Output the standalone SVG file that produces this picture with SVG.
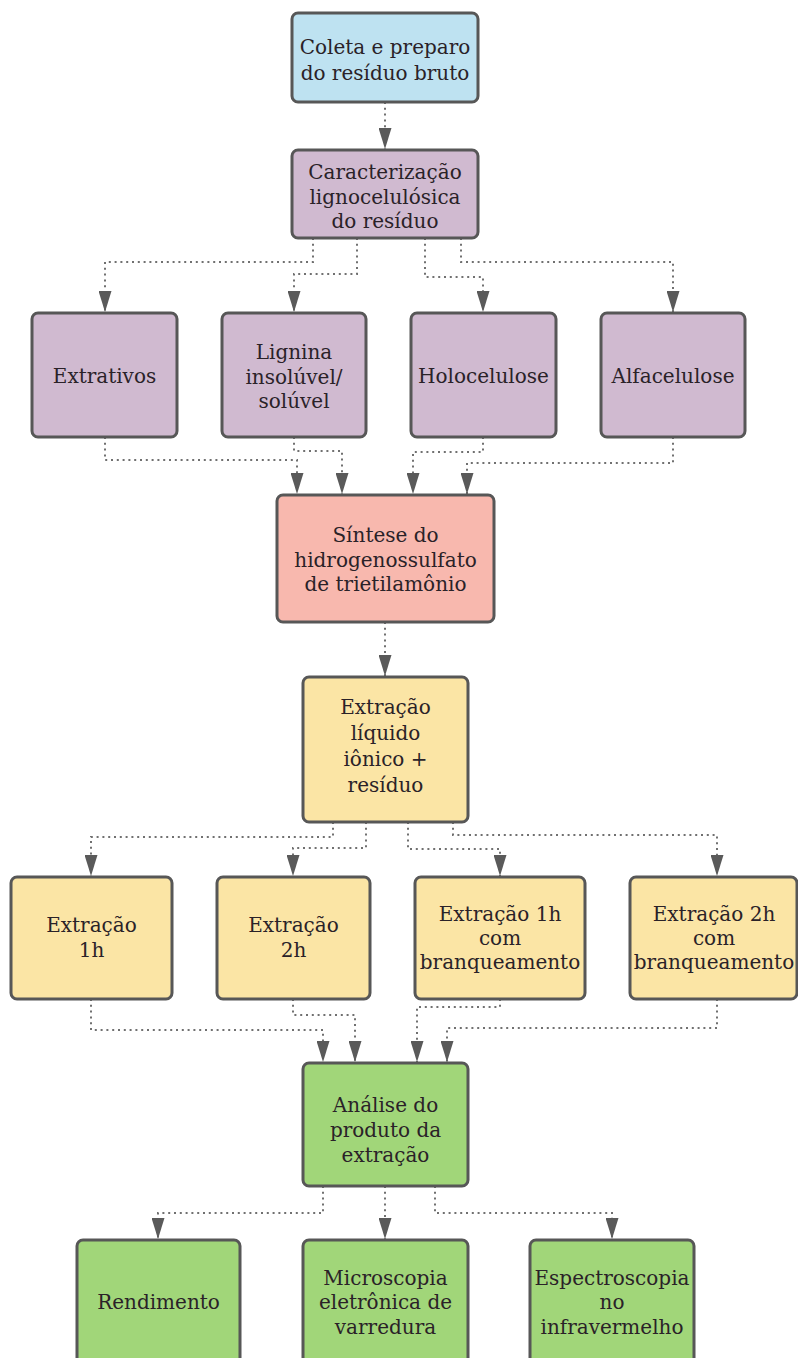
<svg xmlns="http://www.w3.org/2000/svg" width="798" height="1358" viewBox="0 0 798 1358">
<defs>
<marker id="ah" viewBox="0 0 21 13" refX="21" refY="6.5" markerWidth="21" markerHeight="13" orient="auto" markerUnits="userSpaceOnUse"><path d="M0,0 L21,6.5 L0,13 z" fill="#5a5a5a"/></marker>
</defs>
<style>
.box{stroke:#575757;stroke-width:3}
.blue{fill:#bee2f1}
.purple{fill:#d0bad0}
.salmon{fill:#f8b8ae}
.yellow{fill:#fbe5a5}
.green{fill:#a1d679}
text{font-family:"DejaVu Serif","Liberation Serif",serif;font-size:20px;fill:#2a2228;text-anchor:middle}
.c{fill:none;stroke:#707070;stroke-width:2;stroke-dasharray:2 3.8;marker-end:url(#ah)}
</style>
<rect width="798" height="1358" fill="#ffffff"/>
<g id="connectors">
<path class="c" d="M385,102 V149"/>
<path class="c" d="M313,238 V262 H105 V312"/>
<path class="c" d="M357,238 V274 H294 V312"/>
<path class="c" d="M425,238 V277 H483 V312"/>
<path class="c" d="M461,238 V262 H673 V312"/>
<path class="c" d="M105,437 V460 H297 V494"/>
<path class="c" d="M294,437 V451 H342 V494"/>
<path class="c" d="M483,437 V452 H413 V494"/>
<path class="c" d="M673,437 V463 H467 V494"/>
<path class="c" d="M385,622 V676"/>
<path class="c" d="M333,822 V837 H91 V876"/>
<path class="c" d="M366,822 V848 H293 V876"/>
<path class="c" d="M408,822 V849 H500 V876"/>
<path class="c" d="M453,822 V835 H717 V876"/>
<path class="c" d="M91,999 V1030 H323 V1062"/>
<path class="c" d="M293,999 V1015 H355 V1062"/>
<path class="c" d="M500,999 V1007 H417 V1062"/>
<path class="c" d="M717,999 V1028 H447 V1062"/>
<path class="c" d="M323,1186 V1213 H158 V1239"/>
<path class="c" d="M385,1186 V1239"/>
<path class="c" d="M435,1186 V1213 H612 V1239"/>
</g>
<g id="n1"><rect class="box blue" x="292" y="13" width="186" height="89" rx="6"/><text x="385" y="54">Coleta e preparo</text><text x="385" y="80">do resíduo bruto</text></g>
<g id="n2"><rect class="box purple" x="292" y="150" width="186" height="88" rx="6"/><text x="385" y="179">Caracterização</text><text x="385" y="204">lignocelulósica</text><text x="385" y="228">do resíduo</text></g>
<g id="n3"><rect class="box purple" x="32" y="313" width="145" height="124" rx="6"/><text x="104.5" y="383">Extrativos</text></g>
<g id="n4"><rect class="box purple" x="222" y="313" width="144" height="124" rx="6"/><text x="294" y="359">Lignina</text><text x="294" y="384">insolúvel/</text><text x="294" y="408">solúvel</text></g>
<g id="n5"><rect class="box purple" x="411" y="313" width="145" height="124" rx="6"/><text x="483.5" y="383">Holocelulose</text></g>
<g id="n6"><rect class="box purple" x="601" y="313" width="144" height="124" rx="6"/><text x="673" y="383">Alfacelulose</text></g>
<g id="n7"><rect class="box salmon" x="277" y="495" width="217" height="127" rx="6"/><text x="385.5" y="542">Síntese do</text><text x="385.5" y="567">hidrogenossulfato</text><text x="385.5" y="591">de trietilamônio</text></g>
<g id="n8"><rect class="box yellow" x="303" y="677" width="165" height="145" rx="6"/><text x="385.5" y="714">Extração</text><text x="385.5" y="740">líquido</text><text x="385.5" y="766">iônico +</text><text x="385.5" y="792">resíduo</text></g>
<g id="n9"><rect class="box yellow" x="11" y="877" width="161" height="122" rx="6"/><text x="91.5" y="932">Extração</text><text x="91.5" y="957">1h</text></g>
<g id="n10"><rect class="box yellow" x="217" y="877" width="153" height="122" rx="6"/><text x="293.5" y="932">Extração</text><text x="293.5" y="957">2h</text></g>
<g id="n11"><rect class="box yellow" x="415" y="877" width="170" height="122" rx="6"/><text x="500" y="921">Extração 1h</text><text x="500" y="945">com</text><text x="500" y="969">branqueamento</text></g>
<g id="n12"><rect class="box yellow" x="630" y="877" width="167" height="122" rx="6"/><text x="714" y="921">Extração 2h</text><text x="714" y="945">com</text><text x="714" y="969">branqueamento</text></g>
<g id="n13"><rect class="box green" x="303" y="1063" width="165" height="123" rx="6"/><text x="385.5" y="1112">Análise do</text><text x="385.5" y="1137">produto da</text><text x="385.5" y="1162">extração</text></g>
<g id="n14"><rect class="box green" x="77" y="1240" width="163" height="130" rx="6"/><text x="158.5" y="1309">Rendimento</text></g>
<g id="n15"><rect class="box green" x="303" y="1240" width="165" height="130" rx="6"/><text x="385.5" y="1285">Microscopia</text><text x="385.5" y="1309">eletrônica de</text><text x="385.5" y="1334">varredura</text></g>
<g id="n16"><rect class="box green" x="530" y="1240" width="164" height="130" rx="6"/><text x="612" y="1285">Espectroscopia</text><text x="612" y="1309">no</text><text x="612" y="1334">infravermelho</text></g>
</svg>
